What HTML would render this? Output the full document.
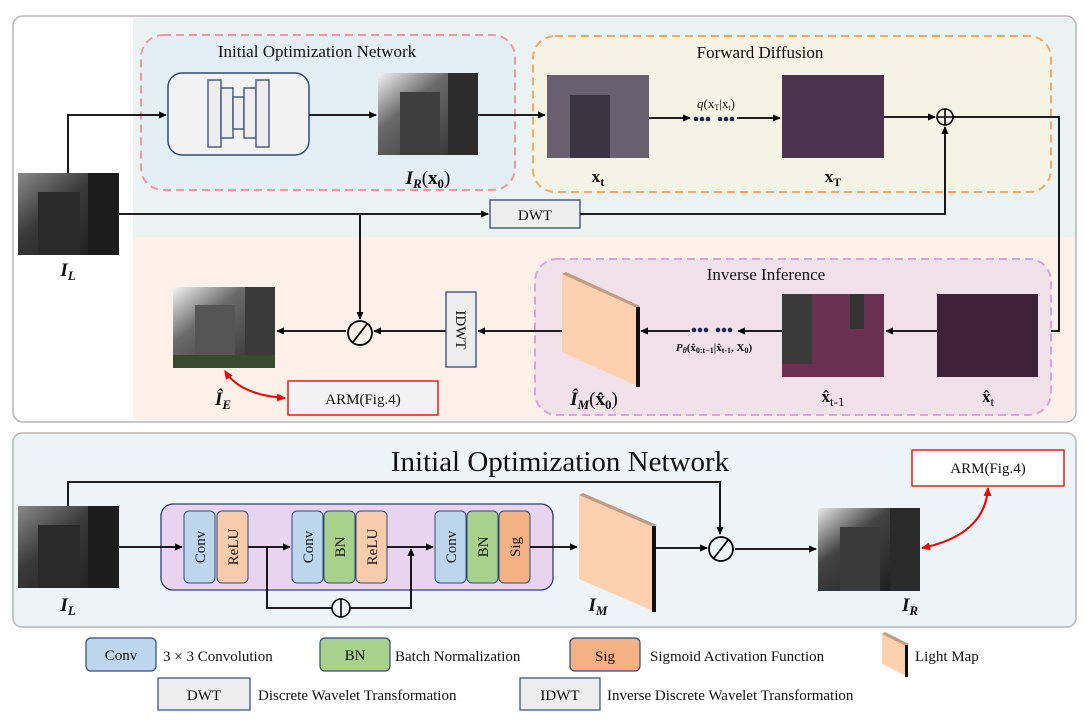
<!DOCTYPE html>
<html><head><meta charset="utf-8"><style>
html,body{margin:0;padding:0;background:#fff}
svg{display:block}
text{font-family:"Liberation Serif",serif;fill:#111}
.b{font-weight:bold;font-style:italic}
</style></head><body>
<svg width="1085" height="720" viewBox="0 0 1085 720" xmlns="http://www.w3.org/2000/svg">
<defs>
<marker id="ar" markerWidth="8" markerHeight="8" refX="7" refY="4" orient="auto" markerUnits="userSpaceOnUse"><path d="M0,0.5 L8,4 L0,7.5 Z" fill="#000"/></marker>
<marker id="rr" markerWidth="9" markerHeight="9" refX="8" refY="4.5" orient="auto-start-reverse" markerUnits="userSpaceOnUse"><path d="M0,0.5 L9,4.5 L0,8.5 Z" fill="#e00"/></marker>
<linearGradient id="dark" x1="0" y1="0" x2="1" y2="1"><stop offset="0" stop-color="#8a8a8a"/><stop offset="0.4" stop-color="#3a3a3a"/><stop offset="1" stop-color="#1a1a1a"/></linearGradient>
<linearGradient id="bright" x1="0" y1="0" x2="1" y2="1"><stop offset="0" stop-color="#f4f4f4"/><stop offset="0.35" stop-color="#6a6a6a"/><stop offset="1" stop-color="#2a2a2a"/></linearGradient>
<linearGradient id="mid" x1="0" y1="0" x2="1" y2="1"><stop offset="0" stop-color="#e8e8e8"/><stop offset="0.35" stop-color="#444"/><stop offset="1" stop-color="#151515"/></linearGradient>
</defs>

<!-- top panel -->
<rect x="13" y="16" width="1063" height="406" rx="10" fill="#fff" stroke="#b5b5b5" stroke-width="1.5"/>
<path d="M133,18 H1066 a9,9 0 0 1 9,9 V237 H133 Z" fill="#ebf3f2"/>
<path d="M133,237 H1075 V411 a9,9 0 0 1 -9,9 H133 Z" fill="#fcf0e8"/>

<!-- Initial opt box -->
<rect x="141" y="35" width="374" height="155" rx="22" fill="#e3eef4" stroke="#f09aa0" stroke-width="2" stroke-dasharray="8,5"/>
<text x="317" y="57" font-size="17" text-anchor="middle">Initial Optimization Network</text>
<rect x="168" y="73" width="141" height="82" rx="14" fill="#f2f2f2" stroke="#2f4a7a" stroke-width="1.5"/>
<g fill="#ededed" stroke="#2f4a7a" stroke-width="1.3">
<rect x="208" y="80" width="13" height="67"/><rect x="221" y="88" width="12" height="50"/><rect x="233" y="97" width="11" height="32"/><rect x="244" y="88" width="12" height="50"/><rect x="256" y="80" width="13" height="67"/>
</g>
<rect x="378" y="73" width="100" height="82" fill="url(#bright)"/>
<rect x="400" y="92" width="40" height="63" fill="#3e3e3e"/><rect x="448" y="73" width="30" height="82" fill="#2c2c2c"/>
<text x="428" y="184" font-size="19" text-anchor="middle"><tspan class="b">I</tspan><tspan class="b" font-size="13" dy="4">R</tspan><tspan dy="-4">(</tspan><tspan font-weight="bold">x</tspan><tspan font-weight="bold" font-size="13" dy="4">0</tspan><tspan dy="-4">)</tspan></text>

<!-- Forward diffusion -->
<rect x="533" y="36" width="518" height="156" rx="22" fill="#f5f3e3" stroke="#f4a86a" stroke-width="2" stroke-dasharray="8,5"/>
<text x="760" y="58" font-size="17" text-anchor="middle">Forward Diffusion</text>
<rect x="547" y="75" width="102" height="83" fill="#6a6070"/>
<rect x="570" y="95" width="40" height="63" fill="#3a3540"/>
<rect x="782" y="75" width="102" height="83" fill="#4b3450"/>
<text x="598" y="182" font-size="17" font-weight="bold" text-anchor="middle">x<tspan font-size="12" dy="4">t</tspan></text>
<text x="833" y="182" font-size="17" font-weight="bold" text-anchor="middle">x<tspan font-size="12" dy="4">T</tspan></text>
<text x="716" y="108" font-size="13" text-anchor="middle"><tspan font-style="italic">q</tspan>(x<tspan font-size="8" dy="2">T</tspan><tspan dy="-2">|x</tspan><tspan font-size="8" dy="2">t</tspan><tspan dy="-2">)</tspan></text>
<g fill="#1a2a55"><circle cx="696" cy="119" r="2.3"/><circle cx="702" cy="119" r="2.3"/><circle cx="708" cy="119" r="2.3"/><circle cx="720" cy="119" r="2.3"/><circle cx="726" cy="119" r="2.3"/><circle cx="732" cy="119" r="2.3"/></g>
<circle cx="945" cy="117" r="8" fill="none" stroke="#000" stroke-width="1.6"/>
<path d="M937,117 H953 M945,109 V125" stroke="#000" stroke-width="1.6"/>

<!-- IL -->
<rect x="18" y="173" width="101" height="82" fill="url(#dark)"/>
<rect x="38" y="192" width="42" height="63" fill="#2a2a2a"/><rect x="88" y="173" width="31" height="82" fill="#1c1c1c"/>
<text x="68" y="276" font-size="19" text-anchor="middle" class="b">I<tspan font-size="13" dy="4">L</tspan></text>

<!-- DWT -->
<rect x="490" y="200" width="90" height="28" fill="#ededed" stroke="#2f4a7a" stroke-width="1.3"/>
<text x="535" y="220" font-size="15" text-anchor="middle">DWT</text>

<g stroke="#000" stroke-width="1.8" fill="none">
<path d="M68,173 V115 H166" marker-end="url(#ar)"/>
<path d="M309,115 H376" marker-end="url(#ar)"/>
<path d="M478,115 H545" marker-end="url(#ar)"/>
<path d="M649,118 H690" marker-end="url(#ar)"/>
<path d="M737,118 H780" marker-end="url(#ar)"/>
<path d="M884,117 H935" marker-end="url(#ar)"/>
<path d="M119,214 H488" marker-end="url(#ar)"/>
<path d="M580,214 H945 V127" marker-end="url(#ar)"/>
<path d="M953,117 H1059 V331 H1040" marker-end="url(#ar)"/>
<path d="M360,214 V319" marker-end="url(#ar)"/>
</g>

<!-- Inverse inference -->
<rect x="535" y="259" width="516" height="156" rx="22" fill="#f0e0e8" stroke="#d8a4e0" stroke-width="2" stroke-dasharray="8,5"/>
<text x="766" y="280" font-size="17" text-anchor="middle">Inverse Inference</text>
<rect x="937" y="294" width="101" height="83" fill="#3e2238"/>
<rect x="782" y="294" width="102" height="83" fill="#6a3050"/>
<rect x="782" y="294" width="30" height="70" fill="#3a3a3a"/><rect x="850" y="294" width="14" height="35" fill="#333"/>
<polygon points="562,274 637,308 637,386 562,352" fill="#fdd0b0"/>
<polygon points="562,274 566,272 640,306 637,308" fill="#c49a80"/>
<rect x="636" y="307" width="4" height="80" fill="#111"/>
<text x="594" y="405" font-size="19" text-anchor="middle"><tspan class="b">Î</tspan><tspan class="b" font-size="13" dy="4">M</tspan><tspan dy="-4">(</tspan><tspan font-weight="bold">x̂</tspan><tspan font-weight="bold" font-size="13" dy="4">0</tspan><tspan dy="-4">)</tspan></text>
<text x="833" y="402" font-size="17" font-weight="bold" text-anchor="middle">x̂<tspan font-weight="normal" font-size="13" dy="4">t-1</tspan></text>
<text x="988" y="402" font-size="17" font-weight="bold" text-anchor="middle">x̂<tspan font-weight="normal" font-size="13" dy="4">t</tspan></text>
<g fill="#1a2a55"><circle cx="694" cy="330" r="2.3"/><circle cx="700" cy="330" r="2.3"/><circle cx="706" cy="330" r="2.3"/><circle cx="718" cy="330" r="2.3"/><circle cx="724" cy="330" r="2.3"/><circle cx="730" cy="330" r="2.3"/></g>
<text x="714" y="351" font-size="11" text-anchor="middle" font-weight="bold"><tspan font-style="italic">P</tspan><tspan font-size="8" dy="2" font-style="italic">θ</tspan><tspan dy="-2">(x̂</tspan><tspan font-size="8" dy="2">0:t−1</tspan><tspan dy="-2">|x̂</tspan><tspan font-size="8" dy="2">t-1</tspan><tspan dy="-2">, X</tspan><tspan font-size="8" dy="2">0</tspan><tspan dy="-2">)</tspan></text>
<g stroke="#000" stroke-width="1.8" fill="none">
<path d="M937,331 H886" marker-end="url(#ar)"/>
<path d="M782,331 H738" marker-end="url(#ar)"/>
<path d="M690,331 H641" marker-end="url(#ar)"/>
<path d="M562,331 H478" marker-end="url(#ar)"/>
<path d="M446,331 H374" marker-end="url(#ar)"/>
<path d="M346,331 H277" marker-end="url(#ar)"/>
</g>
<rect x="446" y="292" width="30" height="75" fill="#ededed" stroke="#2f4a7a" stroke-width="1.3"/>
<text x="461" y="330" font-size="15" text-anchor="middle" transform="rotate(90 461 330)" dy="5">IDWT</text>
<circle cx="360" cy="333" r="12" fill="#fcf0e8" stroke="#000" stroke-width="1.8"/>
<path d="M353,342 L367,324" stroke="#000" stroke-width="1.8"/>

<rect x="173" y="287" width="102" height="81" fill="url(#bright)"/>
<rect x="195" y="305" width="40" height="63" fill="#555"/><rect x="245" y="287" width="30" height="81" fill="#3a3a3a"/>
<rect x="173" y="355" width="102" height="13" fill="#3a4a30"/>
<text x="223" y="405" font-size="19" text-anchor="middle" class="b">Î<tspan font-size="13" dy="4">E</tspan></text>
<rect x="288" y="381" width="150" height="34" fill="#f2f2f2" stroke="#e02020" stroke-width="1.5"/>
<text x="363" y="404" font-size="15" text-anchor="middle">ARM(Fig.4)</text>
<path d="M225,371 Q240,395 285,398" stroke="#e00" stroke-width="2" fill="none" marker-start="url(#rr)" marker-end="url(#rr)"/>

<!-- bottom panel -->
<rect x="13" y="433" width="1063" height="194" rx="9" fill="#edf4f8" stroke="#b5b5b5" stroke-width="1.5"/>
<text x="560" y="471" font-size="29" text-anchor="middle">Initial Optimization Network</text>
<rect x="912" y="450" width="152" height="36" fill="#fff" stroke="#e02020" stroke-width="1.5"/>
<text x="988" y="473" font-size="15" text-anchor="middle">ARM(Fig.4)</text>

<rect x="18" y="506" width="101" height="82" fill="url(#dark)"/>
<rect x="38" y="525" width="42" height="63" fill="#2a2a2a"/><rect x="88" y="506" width="31" height="82" fill="#1c1c1c"/>
<text x="68" y="611" font-size="19" text-anchor="middle" class="b">I<tspan font-size="13" dy="4">L</tspan></text>

<rect x="161" y="504" width="392" height="86" rx="12" fill="#e8d4ee" stroke="#2f3a7a" stroke-width="1.3"/>
<g stroke="#2f4a7a" stroke-width="1">
<rect x="184" y="511" width="31" height="72" rx="5" fill="#bcd6ee"/>
<rect x="217" y="511" width="31" height="72" rx="5" fill="#f8cbad"/>
<rect x="292" y="511" width="31" height="72" rx="5" fill="#bcd6ee"/>
<rect x="324" y="511" width="31" height="72" rx="5" fill="#a9d18e"/>
<rect x="356" y="511" width="31" height="72" rx="5" fill="#f8cbad"/>
<rect x="435" y="511" width="31" height="72" rx="5" fill="#bcd6ee"/>
<rect x="467" y="511" width="31" height="72" rx="5" fill="#a9d18e"/>
<rect x="499" y="511" width="31" height="72" rx="5" fill="#f4b183"/>
</g>
<g font-size="15">
<text transform="translate(205,547) rotate(-90)" text-anchor="middle">Conv</text>
<text transform="translate(238,547) rotate(-90)" text-anchor="middle">ReLU</text>
<text transform="translate(313,547) rotate(-90)" text-anchor="middle">Conv</text>
<text transform="translate(345,547) rotate(-90)" text-anchor="middle">BN</text>
<text transform="translate(377,547) rotate(-90)" text-anchor="middle">ReLU</text>
<text transform="translate(456,547) rotate(-90)" text-anchor="middle">Conv</text>
<text transform="translate(488,547) rotate(-90)" text-anchor="middle">BN</text>
<text transform="translate(520,547) rotate(-90)" text-anchor="middle">Sig</text>
</g>
<g stroke="#000" stroke-width="1.8" fill="none">
<path d="M119,547 H182" marker-end="url(#ar)"/>
<path d="M248,547 H290" marker-end="url(#ar)"/>
<path d="M387,547 H433" marker-end="url(#ar)"/>
<path d="M267,547 V608 H411 V549" marker-end="url(#ar)"/>
<path d="M530,547 H577" marker-end="url(#ar)"/>
<path d="M656,548 H707" marker-end="url(#ar)"/>
<path d="M735,549 H816" marker-end="url(#ar)"/>
<path d="M68,506 V482 H720 V534" marker-end="url(#ar)"/>
</g>
<circle cx="341" cy="608" r="9" fill="#edf4f8" stroke="#000" stroke-width="1.6"/>
<path d="M341,599 V617" stroke="#000" stroke-width="1.6"/>
<polygon points="579,495 653,527 653,611 579,579" fill="#fdd0b0"/>
<polygon points="579,495 583,493 657,525 653,527" fill="#c49a80"/>
<rect x="652" y="526" width="4" height="86" fill="#111"/>
<text x="598" y="611" font-size="19" text-anchor="middle" class="b">I<tspan font-size="13" dy="4">M</tspan></text>
<circle cx="721" cy="549" r="12" fill="#edf4f8" stroke="#000" stroke-width="1.8"/>
<path d="M714,558 L728,540" stroke="#000" stroke-width="1.8"/>
<rect x="818" y="508" width="102" height="83" fill="url(#mid)"/>
<rect x="840" y="527" width="40" height="64" fill="#3a3a3a"/><rect x="890" y="508" width="30" height="83" fill="#2a2a2a"/>
<text x="910" y="611" font-size="19" text-anchor="middle" class="b">I<tspan font-size="13" dy="4">R</tspan></text>
<path d="M988,488 Q985,535 922,548" stroke="#e00" stroke-width="2" fill="none" marker-start="url(#rr)" marker-end="url(#rr)"/>

<!-- legend -->
<g stroke="#2f4a7a" stroke-width="1.2">
<rect x="86" y="638" width="70" height="33" rx="5" fill="#bcd6ee"/>
<rect x="320" y="638" width="70" height="33" rx="5" fill="#a9d18e"/>
<rect x="570" y="638" width="70" height="33" rx="5" fill="#f4b183"/>
<rect x="158" y="678" width="92" height="32" fill="#ededed"/>
<rect x="520" y="678" width="80" height="32" fill="#ededed"/>
</g>
<g font-size="15">
<text x="121" y="660" text-anchor="middle">Conv</text>
<text x="163" y="661">3 × 3 Convolution</text>
<text x="355" y="660" text-anchor="middle">BN</text>
<text x="395" y="661">Batch Normalization</text>
<text x="605" y="661" text-anchor="middle">Sig</text>
<text x="650" y="661">Sigmoid Activation Function</text>
<text x="915" y="661">Light Map</text>
<text x="204" y="700" text-anchor="middle">DWT</text>
<text x="258" y="700">Discrete Wavelet Transformation</text>
<text x="560" y="700" text-anchor="middle">IDWT</text>
<text x="607" y="700">Inverse Discrete Wavelet Transformation</text>
</g>
<polygon points="882,634 906,646 906,676 882,664" fill="#fdd0b0"/>
<polygon points="882,634 885,632 909,644 906,646" fill="#c49a80"/>
<rect x="905" y="645" width="3" height="32" fill="#111"/>
</svg>
</body></html>
